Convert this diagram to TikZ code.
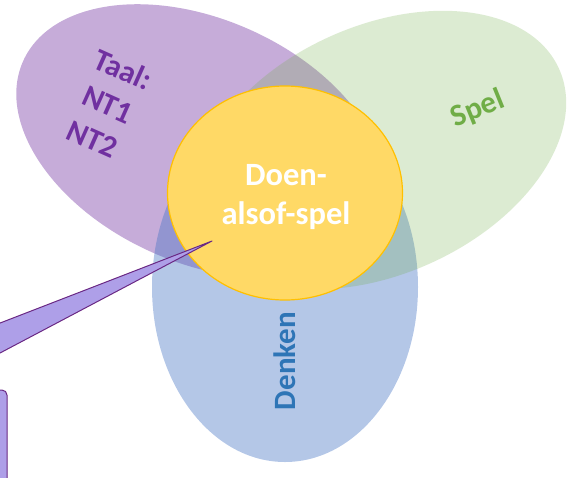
\documentclass[tikz,border=0pt]{standalone}
\usepackage{fontspec}
\setmainfont{Carlito}
\usetikzlibrary{shapes.geometric}

\definecolor{taalpaars}{RGB}{112,48,160}
\definecolor{spelgroen}{RGB}{112,173,71}
\definecolor{denkblauw}{RGB}{68,114,196}
\definecolor{denktekst}{RGB}{46,117,182}
\definecolor{doengeel}{RGB}{255,217,102}
\definecolor{doenrand}{RGB}{255,192,0}
\definecolor{wolkvul}{RGB}{174,159,232}
\definecolor{wolkrand}{RGB}{106,40,132}

\tikzset{
  veldtekst/.style={font=\fontsize{31}{38}\selectfont\bfseries, align=center, inner sep=0pt},
  doentekst/.style={font=\fontsize{32.5}{39}\selectfont\bfseries, align=center, inner sep=0pt, white},
}

\begin{document}
\begin{tikzpicture}[x=1pt, y=-1pt]
        \useasboundingbox (0,0) rectangle (567,477);
        \clip (0,0) rectangle (567,477);
        % taal
        \fill[taalpaars, fill opacity=0.4, shift={(201,141)}, rotate=-24.25]
            (0,0) ellipse [x radius=195pt, y radius=121.6pt];
        % denken
        \fill[denkblauw, fill opacity=0.4] (285,287) ellipse [x radius=133pt, y radius=175pt];
        % spel
        \fill[spelgroen, fill opacity=0.245, shift={(380,150)}, rotate=24.5]
            (0,0) ellipse [x radius=196.6pt, y radius=124pt];
        % doen-alsof-spel
        \node[ellipse, draw=doenrand, fill=doengeel, line width=1.2pt,
              minimum width=235pt, minimum height=214pt, inner sep=0pt] (doen) at (285,193) {};
        \node[doentekst] (doentxt) at (286,197) {Doen-\\alsof-spel};
        \node[veldtekst, taalpaars, rotate=-24] (taal) at (108,104) {Taal:\\NT1\\NT2};
        \node[veldtekst, spelgroen, rotate=22] (spel) at (478,109) {Spel};
        \node[veldtekst, denktekst, rotate=90] (denken) at (285,361) {Denken};
        % wolk
        \coordinate (punt) at (212,241);
        \filldraw[draw=wolkrand, fill=wolkvul, line width=1pt, line join=round]
            (punt) -- (-70,390) [rounded corners=5pt] -- (7,390) -- (7,520)
            [sharp corners] -- (-300,520) -- (-300,390) -- (-173,390) -- cycle;
\end{tikzpicture}
\end{document}
